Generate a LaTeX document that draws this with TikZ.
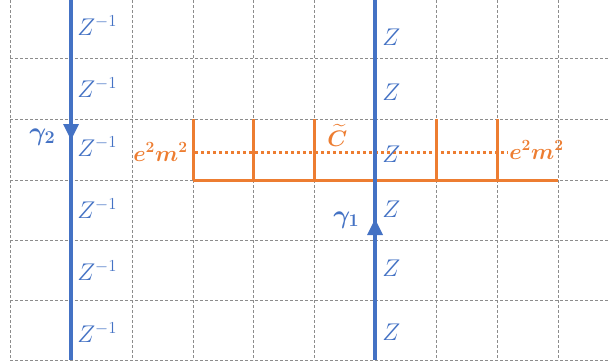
\RequirePackage{fix-cm}
\documentclass[tikz,border=0pt]{standalone}
\usepackage{amsmath,bm}
\usetikzlibrary{arrows.meta}
\definecolor{zblue}{HTML}{4472C4}
\definecolor{zorange}{HTML}{ED7D31}
\definecolor{gridgray}{HTML}{8C8C8C}
\begin{document}
\begin{tikzpicture}[x=1pt,y=-1pt,
  gridline/.style={gridgray,dashed,line width=0.9pt,dash pattern=on 3pt off 2pt},
  bluepath/.style={zblue,line width=3.8pt},
  orangeline/.style={zorange,line width=3pt},
  dotline/.style={zorange,line width=3pt,dash pattern=on 3pt off 3pt},
  zlab/.style={text=zblue,font=\fontsize{17.28}{20}\selectfont,inner sep=0pt,scale=1.4,anchor=base west},
  olab/.style={text=zorange,font=\fontsize{17.28}{20}\selectfont\boldmath,inner sep=0pt,scale=1.3,anchor=base west},
  glab/.style={text=zblue,font=\fontsize{17.28}{20}\selectfont\boldmath,inner sep=0pt,scale=1.5,anchor=base west}]
\useasboundingbox (0,0) rectangle (608,364);
% grid
\foreach \y in {58,119,180,240,300,360} \draw[gridline] (10,\y) -- (608,\y);
\foreach \x in {10,71,132,193,253,314,436,497,558} \draw[gridline] (\x,0) -- (\x,360);
% orange comb
\coordinate (o0) at (193,180);
\coordinate (oe) at (558,180);
\draw[orangeline] (o0) -- (oe);
\foreach \x in {193,253,314,375,436,497} \draw[orangeline] (\x,119) -- (\x,180);
% dotted line
\coordinate (d0) at (195,152);
\coordinate (d1) at (508,152);
\draw[dotline] (d0) -- (d1);
\node[olab] (em1) at (133,161) {$e^2m^2$};
\node[olab] (em2) at (509,159) {$e^2m^2$};
\node[olab] (ct) at (327,146) {$\widetilde{C}$};
% blue paths
\coordinate (b2t) at (71,0);
\coordinate (b2b) at (71,360);
\coordinate (b1t) at (375,0);
\coordinate (b1b) at (375,360);
\draw[bluepath] (b2t) -- (b2b);
\draw[bluepath] (b1t) -- (b1b);
\fill[zblue] (63,124) -- (79,124) -- (71,140) -- cycle;
\fill[zblue] (367,235) -- (383,235) -- (375,219) -- cycle;
\node[glab] (g2) at (29,140) {$\gamma_2$};
\node[glab] (g1) at (333,223) {$\gamma_1$};
% labels
\foreach \y/\n in {35/1,97/2,156/3,218/4,280/5,342/6}
  \node[zlab] (zi\n) at (77,\y) {$Z^{-1}$};
\foreach \y/\n in {45/1,100/2,162/3,217/4,276/5,340/6}
  \node[zlab] (z\n) at (382,\y) {$Z$};
\end{tikzpicture}
\end{document}
